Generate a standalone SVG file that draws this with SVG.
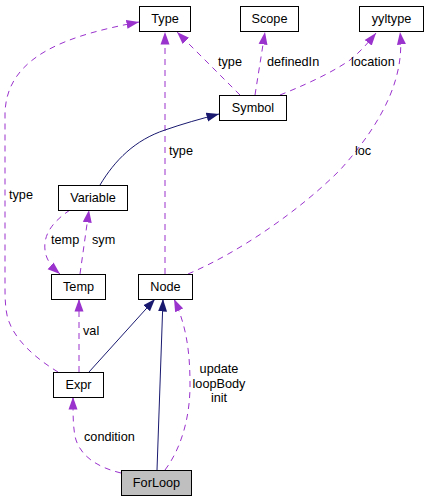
<svg xmlns="http://www.w3.org/2000/svg" width="429" height="501" viewBox="0 0 429 501">
<style>
.box rect{fill:#ffffff;stroke:#000000;stroke-width:1}
#ForLoop rect{fill:#bfbfbf}
text{font-family:"Liberation Sans",Arial,sans-serif;font-size:12.7px;fill:#000000}
.box text{text-anchor:middle}
.dep{fill:none;stroke:#9a32cd;stroke-width:1;stroke-dasharray:6,5;marker-end:url(#ap)}
.inh{fill:none;stroke:#191970;stroke-width:1;marker-end:url(#an)}
</style>
<defs>
<marker id="ap" markerUnits="userSpaceOnUse" markerWidth="13" markerHeight="10" viewBox="0 0 13 10" refX="12.5" refY="5" orient="auto"><path d="M0,0.5 L12.5,5 L0,9.5 z" fill="#9a32cd"/></marker>
<marker id="an" markerUnits="userSpaceOnUse" markerWidth="13" markerHeight="10" viewBox="0 0 13 10" refX="12.5" refY="5" orient="auto"><path d="M0,0.5 L12.5,5 L0,9.5 z" fill="#191970"/></marker>
</defs>
<rect width="429" height="501" fill="#ffffff"/>
<g id="connectors">
<path class="dep" d="M240,95 L177,32"/>
<path class="dep" d="M255,95 L265,32"/>
<path class="dep" d="M280,95 C300,87 330,74 350,60 C360,52 368,43 376,33"/>
<path class="dep" d="M165,274 L165,32"/>
<path class="dep" d="M188,274 C240,252 300,210 340,170 C385,120 405,75 400,32"/>
<path class="inh" d="M100,185 C115,160 135,140 165,130 C182,124 200,119 219,114"/>
<path class="dep" d="M58,372 C35,358 12,338 7,315 C5,305 5,295 5,285 L5,115 C5,55 70,35 139,22"/>
<path class="dep" d="M70,210 C55,220 43,233 45,250 C46,260 52,267 60,274"/>
<path class="dep" d="M80,274 L89,210"/>
<path class="dep" d="M79,372 L79,299"/>
<path class="inh" d="M89,372 L155,299"/>
<path class="inh" d="M157,470 L163,299"/>
<path class="dep" d="M165,470 C180,450 190,420 190,385 C190,350 186,325 174,299"/>
<path class="dep" d="M121,473 C100,468 82,458 76,440 C73,430 73,415 73,397"/>
<text x="218" y="66">type</text>
<text x="267" y="66">definedIn</text>
<text x="351" y="66">location</text>
<text x="169" y="155">type</text>
<text x="355" y="155">loc</text>
<text x="9" y="199">type</text>
<text x="51" y="244">temp</text>
<text x="92" y="244">sym</text>
<text x="83" y="335">val</text>
<text x="219" y="372.5" text-anchor="middle">update</text>
<text x="219" y="387.5" text-anchor="middle">loopBody</text>
<text x="219" y="402" text-anchor="middle">init</text>
<text x="84" y="441">condition</text>
</g>
<g id="Type" class="box"><rect x="139.5" y="6.5" width="51" height="25"/><text x="165" y="23">Type</text></g>
<g id="Scope" class="box"><rect x="240.5" y="6.5" width="58" height="25"/><text x="269.5" y="23">Scope</text></g>
<g id="yyltype" class="box"><rect x="359.5" y="6.5" width="64" height="25"/><text x="391.5" y="23">yyltype</text></g>
<g id="Symbol" class="box"><rect x="219.5" y="95.5" width="67" height="25"/><text x="253" y="112">Symbol</text></g>
<g id="Variable" class="box"><rect x="58.5" y="185.5" width="69" height="25"/><text x="93" y="202">Variable</text></g>
<g id="Temp" class="box"><rect x="51.5" y="274.5" width="54" height="25"/><text x="78.5" y="291">Temp</text></g>
<g id="Node" class="box"><rect x="138.5" y="274.5" width="54" height="25"/><text x="165.5" y="291">Node</text></g>
<g id="Expr" class="box"><rect x="53.5" y="372.5" width="50" height="25"/><text x="78.5" y="389">Expr</text></g>
<g id="ForLoop" class="box"><rect x="121.5" y="470.5" width="70" height="25"/><text x="156.5" y="487">ForLoop</text></g>
</svg>
